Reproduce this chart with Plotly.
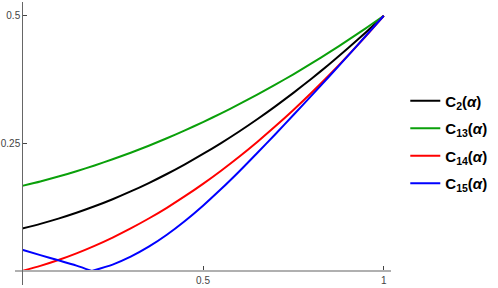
import plotly.graph_objects as go

alpha = [0, 0.05, 0.1, 0.15, 0.2, 0.25, 0.3, 0.35, 0.4, 0.45, 0.5,
         0.55, 0.6, 0.65, 0.7, 0.75, 0.8, 0.85, 0.9, 0.95, 1]
c2 = [0.0833, 0.0923, 0.1025, 0.1140, 0.1267, 0.1406, 0.1558, 0.1723, 0.1900, 0.2090, 0.2292,
      0.2506, 0.2733, 0.2973, 0.3225, 0.3490, 0.3767, 0.4056, 0.4358, 0.4673, 0.5]
c13 = [0.1667, 0.1754, 0.1850, 0.1954, 0.2067, 0.2188, 0.2317, 0.2454, 0.2600, 0.2754, 0.2917,
       0.3088, 0.3267, 0.3454, 0.3650, 0.3854, 0.4067, 0.4288, 0.4517, 0.4754, 0.5]
c14 = [0.0, 0.0099, 0.0214, 0.0345, 0.0492, 0.0655, 0.0834, 0.1028, 0.1238, 0.1465, 0.1707,
       0.1965, 0.2238, 0.2528, 0.2834, 0.3155, 0.3492, 0.3845, 0.4214, 0.4599, 0.5]
alpha15 = [0, 0.05, 0.1, 0.15, 0.1925, 0.25, 0.3, 0.35, 0.4, 0.45, 0.5,
           0.55, 0.6, 0.65, 0.7, 0.75, 0.8, 0.85, 0.9, 0.95, 1]
c15 = [0.0417, 0.0310, 0.0210, 0.0105, 0.0, 0.0125, 0.0280, 0.0475, 0.0710, 0.0980, 0.1280,
       0.1605, 0.1950, 0.2310, 0.2680, 0.3055, 0.3435, 0.3820, 0.4210, 0.4603, 0.5]
kink = 4  # index of the minimum of C15

names = ["<b>C<sub>2</sub>(<i>α</i>)</b>", "<b>C<sub>13</sub>(<i>α</i>)</b>",
         "<b>C<sub>14</sub>(<i>α</i>)</b>", "<b>C<sub>15</sub>(<i>α</i>)</b>"]
colors = ["#000000", "#0aa00a", "#ff0000", "#0000ff"]

xticks = [0.5, 1]
xticktext = ["0.5", "1"]
yticks = [0.25, 0.5]
yticktext = ["0.25", "0.5"]

fig = go.Figure()
for i, (ys, nm, col) in enumerate(zip([c2, c13, c14], names[:3], colors[:3])):
    fig.add_trace(go.Scatter(x=alpha, y=ys, mode="lines", name=nm,
                             legendgroup=str(i), line_shape="spline",
                             line=dict(color=col, width=2, smoothing=0.6)))
# C15: two smooth pieces joined at the kink
fig.add_trace(go.Scatter(x=alpha15[:kink + 1], y=c15[:kink + 1], mode="lines",
                         name=names[3], legendgroup="3", line_shape="spline",
                         line=dict(color=colors[3], width=2, smoothing=0.6)))
fig.add_trace(go.Scatter(x=alpha15[kink:], y=c15[kink:], mode="lines",
                         name=names[3], legendgroup="3", showlegend=False,
                         line_shape="spline",
                         line=dict(color=colors[3], width=2, smoothing=0.6)))

xr = [-0.02, 1.02]
yr = [-0.0275, 0.527]
fig.update_layout(
    width=498, height=288,
    margin=dict(l=15, r=107, t=2, b=3, autoexpand=False),
    plot_bgcolor="white", paper_bgcolor="white",
    font=dict(family="Liberation Sans, Arial, sans-serif", size=10, color="#444"),
    showlegend=True,
    legend=dict(x=1.038, y=0.505, xanchor="left", yanchor="middle",
                font=dict(size=15, color="#000"), tracegroupgap=5,
                itemwidth=30, bgcolor="rgba(0,0,0,0)"),
    xaxis=dict(range=xr, showgrid=False, zeroline=False, showline=True,
               linecolor="#b0b0b0", linewidth=1.5, automargin=False,
               anchor="free", position=(0 - yr[0]) / (yr[1] - yr[0]),
               tickvals=xticks, ticktext=xticktext, ticks="inside",
               ticklen=4, tickcolor="#444", tickwidth=1),
    yaxis=dict(range=yr, showgrid=False, zeroline=False, showline=True,
               linecolor="#666", linewidth=1, automargin=False,
               anchor="free", position=(0 - xr[0]) / (xr[1] - xr[0]),
               tickvals=yticks, ticktext=yticktext, ticks="inside",
               ticklen=4, tickcolor="#444", tickwidth=1),
)

fig.write_html("out.html", config={"displayModeBar": False},
               post_script="document.body.style.margin='0';document.body.style.overflow='hidden';")
